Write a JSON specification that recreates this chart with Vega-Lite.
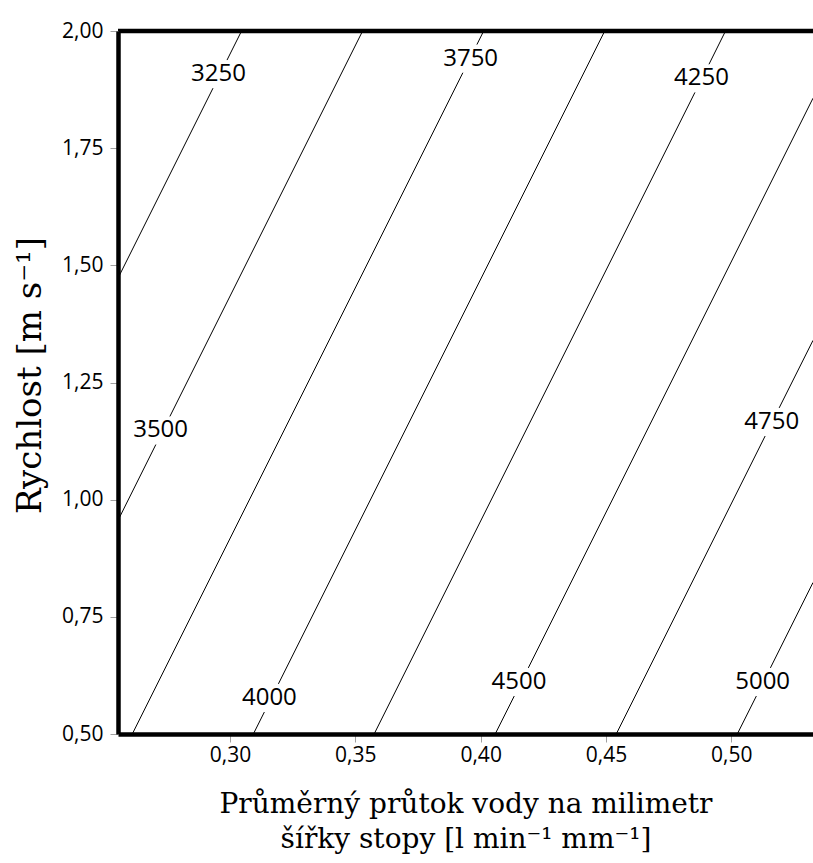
{
  "$schema": "https://vega.github.io/schema/vega-lite/v6.json",
  "width": 695,
  "height": 703,
  "autosize": {"type": "none"},
  "padding": {"left": 118, "top": 31, "right": 0, "bottom": 129},
  "background": "white",
  "config": {"view": {"stroke": null}},
  "datasets": {
    "contours": [
      {"seg": "3250a", "level": 3250, "x": 0.3046, "y": 2.0},
      {"seg": "3250a", "level": 3250, "x": 0.2988, "y": 1.938},
      {"seg": "3250b", "level": 3250, "x": 0.2932, "y": 1.878},
      {"seg": "3250b", "level": 3250, "x": 0.2553, "y": 1.4726},
      {"seg": "3500a", "level": 3500, "x": 0.3529, "y": 2.0},
      {"seg": "3500a", "level": 3500, "x": 0.2760, "y": 1.1776},
      {"seg": "3500b", "level": 3500, "x": 0.2704, "y": 1.1176},
      {"seg": "3500b", "level": 3500, "x": 0.2553, "y": 0.9558},
      {"seg": "3750a", "level": 3750, "x": 0.4012, "y": 2.0},
      {"seg": "3750a", "level": 3750, "x": 0.3985, "y": 1.971},
      {"seg": "3750b", "level": 3750, "x": 0.3929, "y": 1.911},
      {"seg": "3750b", "level": 3750, "x": 0.2610, "y": 0.5},
      {"seg": "4000a", "level": 4000, "x": 0.4495, "y": 2.0},
      {"seg": "4000a", "level": 4000, "x": 0.3193, "y": 0.6069},
      {"seg": "4000b", "level": 4000, "x": 0.3137, "y": 0.5469},
      {"seg": "4000b", "level": 4000, "x": 0.3093, "y": 0.5},
      {"seg": "4250a", "level": 4250, "x": 0.4977, "y": 2.0},
      {"seg": "4250a", "level": 4250, "x": 0.4911, "y": 1.929},
      {"seg": "4250b", "level": 4250, "x": 0.4855, "y": 1.869},
      {"seg": "4250b", "level": 4250, "x": 0.3575, "y": 0.5},
      {"seg": "4500a", "level": 4500, "x": 0.5326, "y": 1.8566},
      {"seg": "4500a", "level": 4500, "x": 0.4190, "y": 0.641},
      {"seg": "4500b", "level": 4500, "x": 0.4134, "y": 0.581},
      {"seg": "4500b", "level": 4500, "x": 0.4058, "y": 0.5},
      {"seg": "4750a", "level": 4750, "x": 0.5326, "y": 1.3399},
      {"seg": "4750a", "level": 4750, "x": 0.5191, "y": 1.1958},
      {"seg": "4750b", "level": 4750, "x": 0.5135, "y": 1.1358},
      {"seg": "4750b", "level": 4750, "x": 0.4541, "y": 0.5},
      {"seg": "5000a", "level": 5000, "x": 0.5326, "y": 0.8232},
      {"seg": "5000a", "level": 5000, "x": 0.5156, "y": 0.641},
      {"seg": "5000b", "level": 5000, "x": 0.5100, "y": 0.581},
      {"seg": "5000b", "level": 5000, "x": 0.5024, "y": 0.5}
    ],
    "labels": [
      {"label": "3250", "x": 0.2954, "y": 1.908},
      {"label": "3500", "x": 0.2723, "y": 1.1476},
      {"label": "3750", "x": 0.3960, "y": 1.941},
      {"label": "4000", "x": 0.3157, "y": 0.5769},
      {"label": "4250", "x": 0.4881, "y": 1.899},
      {"label": "4500", "x": 0.4153, "y": 0.611},
      {"label": "4750", "x": 0.5161, "y": 1.1658},
      {"label": "5000", "x": 0.5125, "y": 0.611}
    ]
  },
  "layer": [
    {
      "data": {"name": "contours"},
      "mark": {"type": "line", "color": "black", "strokeWidth": 1, "clip": true},
      "encoding": {
        "x": {
          "field": "x", "type": "quantitative",
          "scale": {"domain": [0.2553, 0.5326], "nice": false, "zero": false},
          "axis": {
            "values": [0.3, 0.35, 0.4, 0.45, 0.5],
            "labelExpr": "replace(format(datum.value, '.2f'), '.', ',')",
            "title": ["Průměrný průtok vody na milimetr", "šířky stopy [l min⁻¹ mm⁻¹]"],
            "titleFont": "DejaVu Serif", "titleFontSize": 28, "titleFontWeight": "normal", "titleColor": "black",
            "titleX": 347.5, "titleY": 78, "titleBaseline": "alphabetic", "titleAlign": "center", "titleLineHeight": 35,
            "labelFont": "Open Sans", "labelFontSize": 21, "labelColor": "black", "labelPadding": 2,
            "labelFlush": false, "labelOverlap": false,
            "tickSize": 8, "tickColor": "#a0a0a0", "tickWidth": 1,
            "domainColor": "black", "domainWidth": 4.5, "grid": false, "zindex": 1
          }
        },
        "y": {
          "field": "y", "type": "quantitative",
          "scale": {"domain": [0.5, 2.0], "nice": false, "zero": false},
          "axis": {
            "values": [0.5, 0.75, 1.0, 1.25, 1.5, 1.75, 2.0],
            "labelExpr": "replace(format(datum.value, '.2f'), '.', ',')",
            "title": "Rychlost [m s⁻¹]",
            "titleFont": "DejaVu Serif", "titleFontSize": 34, "titleFontWeight": "normal", "titleColor": "black",
            "titleAngle": 270, "titleX": -78, "titleY": 344, "titleBaseline": "alphabetic", "titleAlign": "center",
            "labelFont": "Open Sans", "labelFontSize": 21, "labelColor": "black", "labelPadding": 7,
            "labelFlush": false, "labelOverlap": false,
            "tickSize": 8, "tickColor": "#a0a0a0", "tickWidth": 1,
            "domainColor": "black", "domainWidth": 4.5, "grid": false, "zindex": 1
          }
        },
        "detail": {"field": "seg", "type": "nominal"}
      }
    },
    {
      "data": {"name": "labels"},
      "mark": {"type": "text", "font": "Open Sans", "fontSize": 24, "color": "black", "baseline": "middle", "align": "center"},
      "encoding": {
        "x": {"field": "x", "type": "quantitative"},
        "y": {"field": "y", "type": "quantitative"},
        "text": {"field": "label", "type": "nominal"}
      }
    },
    {
      "data": {"values": [{}]},
      "mark": {"type": "rule", "color": "black", "strokeWidth": 4.5},
      "encoding": {"y": {"datum": 2.0}}
    }
  ]
}
